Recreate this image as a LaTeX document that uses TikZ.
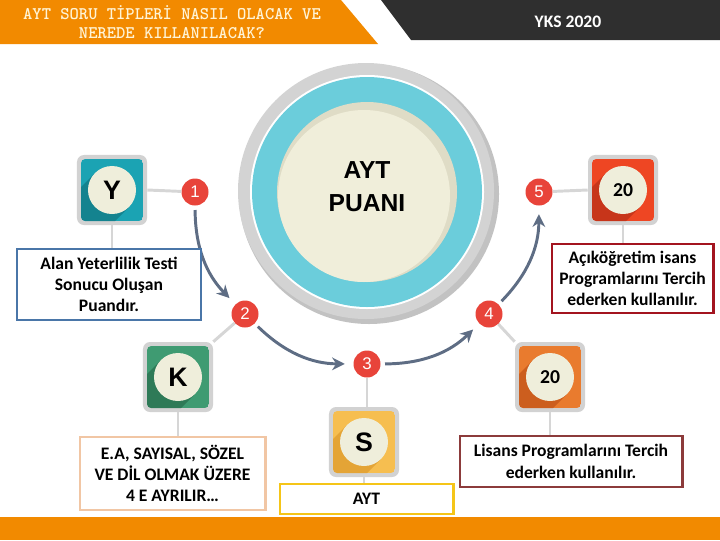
\documentclass[tikz,border=0pt]{standalone}
\usepackage{fontspec}
\setmainfont{Carlito}
\newfontfamily\arialf{Liberation Sans}
\usetikzlibrary{arrows.meta,calc}

\definecolor{bannerorange}{HTML}{F28A00}
\definecolor{bannerdark}{HTML}{2F2F2F}
\definecolor{titlecream}{HTML}{FFF4D6}
\definecolor{tilegray}{HTML}{D2D2D2}
\definecolor{disccream}{HTML}{EFEEDB}
\definecolor{markred}{HTML}{E8443A}
\definecolor{linkgray}{HTML}{D6D6D6}
\definecolor{arrowslate}{HTML}{5E6D84}
\definecolor{ringgray}{HTML}{D3D3D3}
\definecolor{ringdark}{HTML}{C2C2C2}
\definecolor{ringcyan}{HTML}{6BCDDB}
\definecolor{creamdark}{HTML}{DFDCC6}
\definecolor{cream}{HTML}{F0EEDA}
\definecolor{tealA}{HTML}{1BA3B3}
\definecolor{tealB}{HTML}{14838F}
\definecolor{greenA}{HTML}{3F9B72}
\definecolor{greenB}{HTML}{2E7A57}
\definecolor{yellowA}{HTML}{F6BE50}
\definecolor{yellowB}{HTML}{E4A436}
\definecolor{redA}{HTML}{EE4623}
\definecolor{redB}{HTML}{C7351A}
\definecolor{orangeA}{HTML}{E97B2E}
\definecolor{orangeB}{HTML}{CC5E1E}
\definecolor{boxblue}{HTML}{4A76A8}
\definecolor{boxred}{HTML}{A3141F}
\definecolor{boxpeach}{HTML}{F1C6A4}
\definecolor{boxbrown}{HTML}{8C3B3B}
\definecolor{boxyellow}{HTML}{F5C518}

\newcommand{\letterfont}{\arialf\bfseries\fontsize{19}{19}\selectfont}
\newcommand{\numfont}{\bfseries\fontsize{14}{14}\selectfont}

\tikzset{
  tileout/.style={fill=tilegray, rounded corners=5pt, minimum size=1.75cm, inner sep=0pt},
  disc/.style={circle, fill=disccream, minimum size=1.2cm, inner sep=0pt},
  marker/.style={circle, fill=markred, minimum size=0.675cm, inner sep=0pt, text=white,
    font=\arialf\fontsize{12}{12}\selectfont},
  link/.style={draw=linkgray, line width=2.1pt},
  arr/.style={draw=arrowslate, line width=2.1pt, -{Stealth[length=9pt,width=9pt]},
    shorten <=3pt, shorten >=6pt},
  infobox/.style={draw, line width=2.1pt, fill=white, align=center, inner sep=0pt,
    font=\bfseries\fontsize{12.5}{15}\selectfont}
}

\newcommand{\tilebox}[5]{%
  \node[tileout] (#1) at (#2) {};
  \begin{scope}
    \clip[rounded corners=3pt] ($(#2)+(-31,-31)$) rectangle ($(#2)+(31,31)$);
    \fill[#3] ($(#2)+(-31,-31)$) rectangle ($(#2)+(31,31)$);
    \fill[#4] ($(#2)+(-17,17)$) -- ($(#2)+(17,-17)$) -- ($(#2)+(-43,-77)$) -- ($(#2)+(-77,-43)$) -- cycle;
  \end{scope}
  \node[disc] (#1d) at (#2) {#5};
}

\begin{document}
\begin{tikzpicture}[x=0.025cm,y=0.025cm]
\useasboundingbox (0,0) rectangle (720,-540);

\fill[bannerorange] (0,0) -- (341,0) -- (378,-44) -- (0,-44) -- cycle;
\fill[bannerdark] (381,0) -- (720,0) -- (720,-40) -- (411,-40) -- cycle;
\node[text=titlecream, align=center, font=\ttfamily\bfseries\fontsize{12.6}{13.5}\selectfont] (title) at (172,-22.5)
  {AYT SORU TİPLERİ NASIL OLACAK VE\\NEREDE KILLANILACAK?};
\node[text=white, font=\bfseries\fontsize{12.5}{15}\selectfont] (yks) at (568,-22) {YKS 2020};
\fill[bannerorange] (0,-517) rectangle (720,-540);

\coordinate (c) at (367,-192);
\fill[ringdark] ($(c)+(2,-2)$) circle[radius=130];
\fill[ringgray] ($(c)+(-1,1)$) circle[radius=128];
\fill[white] (c) circle[radius=117];
\fill[ringcyan] (c) circle[radius=115];
\fill[creamdark] (c) circle[radius=90];
\fill[cream] ($(c)+(-3,-4)$) circle[radius=86];
\node[align=center, font=\arialf\bfseries\fontsize{17.5}{23.5}\selectfont] (puan) at (367,-187) {AYT\\PUANI};

\node[marker] (m1) at (195,-192) {1};
\node[marker] (m2) at (245,-314) {2};
\node[marker] (m3) at (367,-364) {3};
\node[marker] (m4) at (489,-314) {4};
\node[marker] (m5) at (539,-192) {5};

\draw[arr] (m1) to[bend right=22] (m2);
\draw[arr] (m2) to[bend right=22] (m3);
\draw[arr] (m3) to[bend right=22] (m4);
\draw[arr] (m4) to[bend right=22] (m5);

\tilebox{ytile}{112,-190}{tealA}{tealB}{\letterfont Y}
\tilebox{rtile}{623,-190}{redA}{redB}{\numfont 20}
\tilebox{ktile}{178,-377}{greenA}{greenB}{\letterfont K}
\tilebox{stile}{364,-442}{yellowA}{yellowB}{\letterfont S}
\tilebox{otile}{550,-377}{orangeA}{orangeB}{\numfont 20}

\node[infobox, draw=boxblue, line width=1.6pt, minimum width=4.6cm, minimum height=1.775cm] (box1) at (109,-284.5)
  {Alan Yeterlilik Testi\\Sonucu Oluşan\\Puandır.};
\node[infobox, draw=boxred, minimum width=4.025cm, minimum height=1.725cm] (box2) at (632.5,-278.5)
  {Açıköğretim isans\\Programlarını Tercih\\ederken kullanılır.};
\node[infobox, draw=boxpeach, minimum width=4.625cm, minimum height=1.825cm] (box3) at (172.5,-473.5)
  {E.A, SAYISAL, SÖZEL\\VE DİL OLMAK ÜZERE\\4 E AYRILIR…};
\node[infobox, draw=boxbrown, minimum width=5.55cm, minimum height=1.275cm,
  font=\bfseries\fontsize{12.5}{16}\selectfont] (box4) at (571,-461.5)
  {Lisans Programlarını Tercih\\ederken kullanılır.};
\node[infobox, draw=boxyellow, minimum width=4.325cm, minimum height=0.75cm] (box5) at (366.5,-499) {AYT};

\draw[link] (ytile.east) -- (m1);
\draw[link] (ytile.south) -- (ytile.south |- box1.north);
\draw[link] (m5) -- (rtile.west);
\draw[link] (rtile.south) -- (rtile.south |- box2.north);
\draw[link] (m2) -- (ktile.north east);
\draw[link] (ktile.south) -- (ktile.south |- box3.north);
\draw[link] (m3) -- (m3 |- stile.north);
\draw[link] (stile.south) -- (stile.south |- box5.north);
\draw[link] (m4) -- (otile.north west);
\draw[link] (otile.south) -- (otile.south |- box4.north);
\end{tikzpicture}
\end{document}
